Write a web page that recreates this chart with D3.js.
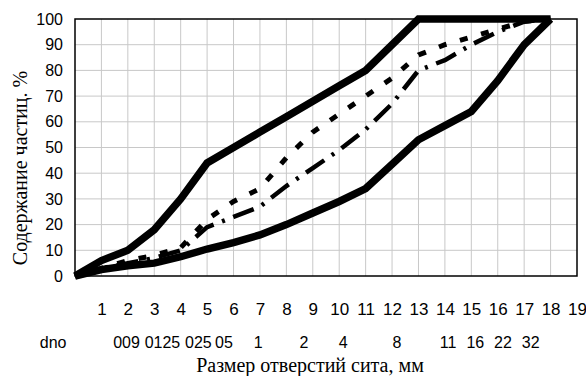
<!DOCTYPE html>
<html>
<head>
<meta charset="utf-8">
<script src="https://cdn.jsdelivr.net/npm/d3@7"></script>
<style>
  body { margin: 0; background: #fff; }
  .grid line { stroke: #c8c8c8; stroke-width: 1; }
  .tick-label { font-family: "Liberation Sans", Arial, sans-serif; font-size: 16px; fill: #000; }
  .x-label { font-size: 17px; }
  .title { font-family: "Liberation Serif", "Times New Roman", serif; font-size: 20px; fill: #000; }
</style>
</head>
<body>
<div id="chart"></div>
<script>
// sieve positions (1..19) and second-row sieve size labels
var xTicks = d3.range(1, 20);
var yTicks = d3.range(0, 101, 10);
var sieveLabels = ["dno", "009", "0125", "025", "05", "1", "2", "4", "8", "11", "16", "22", "32"];
var sievePos = [-0.83, 1.95, 3.31, 4.67, 5.64, 6.93, 8.67, 10.15, 12.19, 14.12, 15.15, 16.2, 17.25];

// series: x position, % passing
var xs = d3.range(0, 19);
var upper = [0, 6, 10, 18, 30, 44, 50, 56, 62, 68, 74, 80, 90, 100, 100, 100, 100, 100, 100];
var lower = [0, 2.5, 4, 5, 7.5, 10.5, 13, 16, 20, 24.5, 29, 34, 43.5, 53, 58.5, 64, 76, 90, 100];
var mixA  = [0, 3, 6, 8, 11, 22, 29, 34, 46, 56, 63, 70, 77, 86, 90, 93, 96, 99, 100];
var mixB  = [0, 3, 5, 7, 10, 19, 23, 27, 35, 42, 49, 57, 67, 80, 84, 90, 95, 99, 100];

var W = 586, H = 376;
var margin = { top: 19, right: 9, bottom: 100, left: 75 };
var width = W - margin.left - margin.right,
    height = H - margin.top - margin.bottom;

var svg = d3.select("#chart").append("svg")
  .attr("width", W).attr("height", H);
var g = svg.append("g")
  .attr("transform", "translate(" + margin.left + "," + margin.top + ")");

var x = d3.scaleLinear().domain([0, 19]).range([0, width]);
var y = d3.scaleLinear().domain([0, 100]).range([height, 0]);

// grid
var grid = g.append("g").attr("class", "grid");
grid.selectAll(".vx").data(xTicks.slice(0, -1)).enter().append("line")
  .attr("x1", function (d) { return x(d); }).attr("x2", function (d) { return x(d); })
  .attr("y1", 0).attr("y2", height);
grid.selectAll(".hy").data(yTicks.slice(1, -1)).enter().append("line")
  .attr("x1", 0).attr("x2", width)
  .attr("y1", function (d) { return y(d); }).attr("y2", function (d) { return y(d); });

g.append("rect").attr("width", width).attr("height", height)
  .attr("fill", "none").attr("stroke", "#000").attr("stroke-width", 1.5);

// axes as plain labels (no tick marks in the original)
var yAxis = d3.axisLeft(y).tickValues(yTicks).tickSize(0).tickPadding(12);
var ya = g.append("g").call(yAxis);
ya.select(".domain").remove();
ya.selectAll("text").attr("class", "tick-label").attr("font-size", null).attr("font-family", null);

var xAxis = d3.axisBottom(x).tickValues(xTicks).tickSize(0).tickPadding(27);
var xa = g.append("g").attr("transform", "translate(0," + height + ")").call(xAxis);
xa.select(".domain").remove();
xa.selectAll("text").attr("class", "tick-label x-label").attr("font-size", null).attr("font-family", null);

g.append("g").selectAll("text").data(sieveLabels).enter().append("text")
  .attr("class", "tick-label")
  .attr("x", function (d, i) { return x(sievePos[i]); })
  .attr("y", height + 72)
  .attr("text-anchor", "middle")
  .text(function (d) { return d; });

// titles
svg.append("text").attr("class", "title")
  .attr("x", 310).attr("y", 372)
  .attr("text-anchor", "middle")
  .text("Размер отверстий сита, мм");

svg.append("text").attr("class", "title")
  .attr("transform", "translate(27," + 168 + ") rotate(-90)")
  .attr("text-anchor", "middle")
  .text("Содержание частиц.  %");

// lines
var line = d3.line()
  .x(function (d, i) { return x(xs[i]); })
  .y(function (d) { return y(d); });

var series = [
  { values: mixB, width: 4.5, dash: "22,9,3,9" },
  { values: mixA, width: 5, dash: "8,14" },
  { values: lower, width: 7.5, dash: null },
  { values: upper, width: 7.5, dash: null }
];

g.selectAll(".series").data(series).enter().append("path")
  .attr("class", "series")
  .attr("d", function (d) { return line(d.values); })
  .attr("fill", "none")
  .attr("stroke", "#000")
  .attr("stroke-width", function (d) { return d.width; })
  .attr("stroke-linejoin", "miter")
  .attr("stroke-dasharray", function (d) { return d.dash; });
</script>
</body>
</html>
